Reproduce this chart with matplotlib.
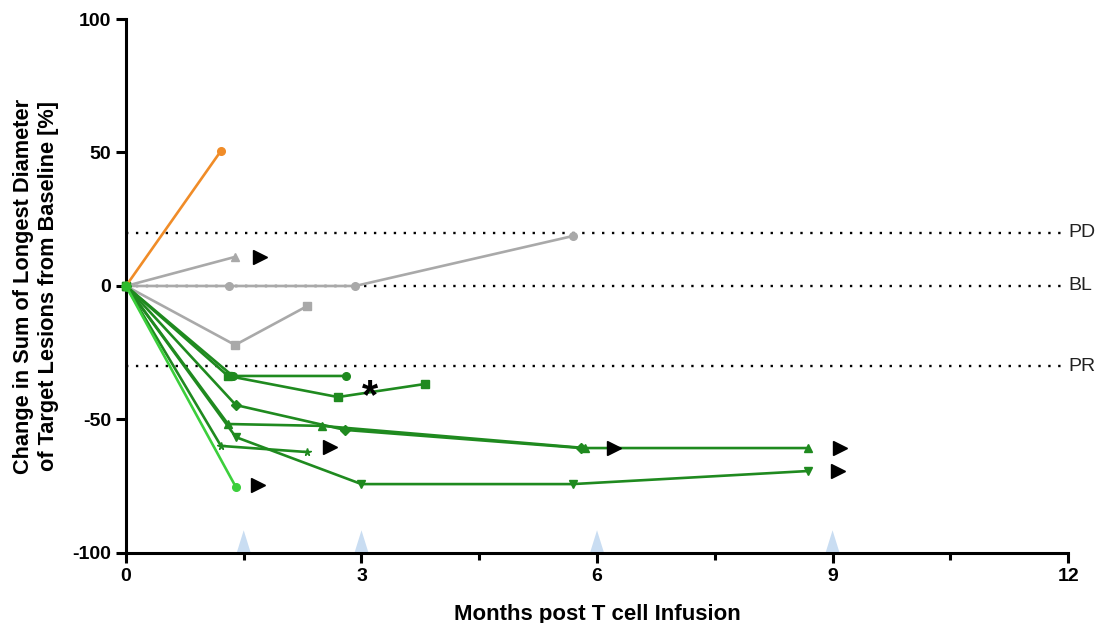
import matplotlib
matplotlib.use("Agg")
import matplotlib.pyplot as plt
from matplotlib.patches import Polygon
from matplotlib.ticker import MultipleLocator

plt.rcParams['font.family'] = ['Liberation Sans', 'DejaVu Sans']
plt.rcParams['axes.unicode_minus'] = False

# Patient trajectories: months post infusion and % change in SLD
orange_x = [0, 1.21]
orange_y = [0, 50.6]

gray_tri_x = [0, 1.39]
gray_tri_y = [0, 10.9]

gray_circ_x = [0, 1.31, 2.92, 5.69]
gray_circ_y = [0, 0, 0, 18.7]

gray_sq_x = [0, 1.39, 2.31]
gray_sq_y = [0, -22.1, -7.5]

green_circ_x = [0, 1.36, 2.80]
green_circ_y = [0, -33.7, -33.7]

green_sq_x = [0, 1.30, 2.70, 3.81]
green_sq_y = [0, -33.7, -41.6, -36.7]

green_dia_x = [0, 1.40, 2.79, 5.80]
green_dia_y = [0, -44.6, -53.9, -60.7]

green_tri_x = [0, 1.30, 2.50, 5.85, 8.69]
green_tri_y = [0, -51.7, -52.4, -60.7, -60.7]

green_star_x = [0, 1.21, 2.31]
green_star_y = [0, -59.9, -62.2]

green_tdown_x = [0, 1.40, 3.00, 5.69, 8.69]
green_tdown_y = [0, -56.6, -74.2, -74.2, -69.3]

lime_circ_x = [0, 1.40]
lime_circ_y = [0, -75.3]

# Ongoing-response arrows and the asterisk note
arrow_x = [1.71, 2.60, 1.68, 6.22, 9.10, 9.07]
arrow_y = [10.9, -60.3, -74.5, -60.7, -60.7, -69.3]
star_note = (3.11, -41.5)

# Reference levels
ref_levels = [20, 0, -30]
ref_labels = ["PD", "BL", "PR"]

# Infusion time points
infusion_months = [1.5, 3, 6, 9]

ORANGE = "#f08c28"
GRAY = "#a9a9a9"
DGREEN = "#1f8a1f"
LGREEN = "#3ccf3c"

fig = plt.figure(figsize=(11, 6.23), dpi=100)
ax = fig.add_axes([0.1145, 0.1124, 0.8565, 0.8571])

for y in ref_levels:
    ax.plot([0, 12], [y, y], linestyle=(0, (1, 3.2)), color="black", lw=1.7, zorder=1)
for y, lab in zip(ref_levels, ref_labels):
    ax.text(12.0, y, lab, va="center", ha="left", fontsize=14, color="#222222",
            clip_on=False)

series = [
    (gray_tri_x, gray_tri_y, GRAY, "^"),
    (gray_circ_x, gray_circ_y, GRAY, "o"),
    (gray_sq_x, gray_sq_y, GRAY, "s"),
    (green_circ_x, green_circ_y, DGREEN, "o"),
    (green_sq_x, green_sq_y, DGREEN, "s"),
    (green_dia_x, green_dia_y, DGREEN, "D"),
    (green_tri_x, green_tri_y, DGREEN, "^"),
    (green_star_x, green_star_y, DGREEN, "*"),
    (green_tdown_x, green_tdown_y, DGREEN, "v"),
    (lime_circ_x, lime_circ_y, LGREEN, "o"),
    (orange_x, orange_y, ORANGE, "o"),
]
for xs, ys, c, m in series:
    ax.plot(xs, ys, color=c, lw=1.9, marker=m, markersize=5.5, zorder=3,
            clip_on=False)

ax.plot([0], [0], marker="o", color="#2dbb2d", markersize=6, zorder=4, clip_on=False)

ax.plot(arrow_x, arrow_y, linestyle="none", marker=">", color="black",
        markersize=10, zorder=5)
ax.text(star_note[0], star_note[1], "*", fontsize=30, fontweight="bold",
        ha="center", va="center", color="black", zorder=5)

for m in infusion_months:
    tri = Polygon([[m - 0.09, -100], [m + 0.09, -100], [m, -91.5]], closed=True,
                  facecolor="#c9ddf2", edgecolor="none", zorder=2, clip_on=False)
    ax.add_patch(tri)

ax.set_xlim(0, 12)
ax.set_ylim(-100, 100)
ax.set_xticks([0, 3, 6, 9, 12])
ax.xaxis.set_minor_locator(MultipleLocator(1.5))
ax.set_yticks([-100, -50, 0, 50, 100])

for side in ("top", "right"):
    ax.spines[side].set_visible(False)
for side in ("left", "bottom"):
    ax.spines[side].set_linewidth(2.2)

ax.tick_params(axis="both", which="major", length=7, width=2.2, labelsize=14,
               direction="out")
ax.tick_params(axis="x", which="minor", length=5, width=2.2, direction="out")
for lab in ax.get_xticklabels() + ax.get_yticklabels():
    lab.set_fontweight("bold")

ax.set_xlabel("Months post T cell Infusion", fontsize=16, fontweight="bold", labelpad=14)
ax.set_ylabel("Change in Sum of Longest Diameter\nof Target Lesions from Baseline [%]",
              fontsize=15.7, fontweight="bold", labelpad=10)

fig.savefig("out.png", dpi=100)
